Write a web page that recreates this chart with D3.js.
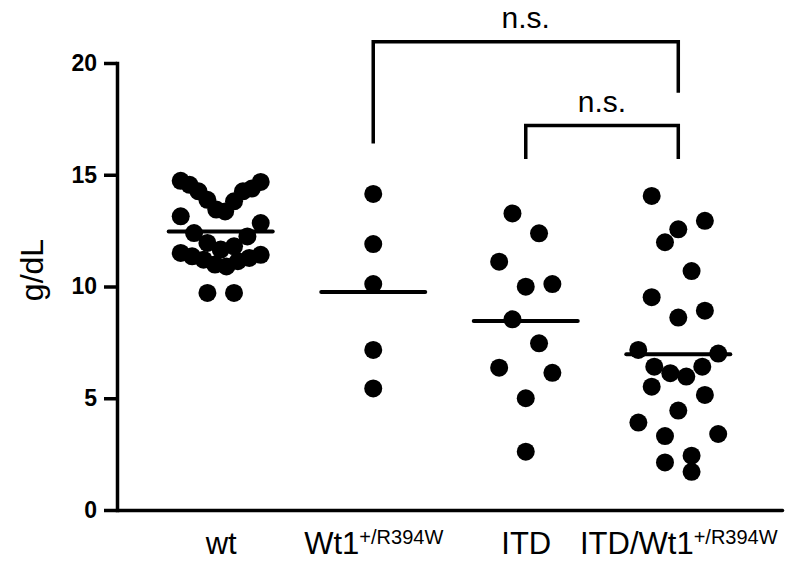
<!DOCTYPE html>
<html>
<head>
<meta charset="utf-8">
<script src="https://cdnjs.cloudflare.com/ajax/libs/d3/7.8.5/d3.min.js"></script>
<style>
  body { margin: 0; background: #fff; }
  text { font-family: "Liberation Sans", Arial, sans-serif; fill: #000; }
</style>
</head>
<body>
<script>
// groups on the x axis
var groups = ["wt", "Wt1", "ITD", "ITD/Wt1"];
var groupNames = ["wt", "Wt1", "ITD", "ITD/Wt1"];
var groupSups = ["", "+/R394W", "", "+/R394W"];

// haemoglobin, g/dL
var wtValues = [14.55, 14.73, 14.68, 14.38, 13.81, 14.26, 14.26, 13.88, 13.36, 13.44,
  13.14, 12.84, 12.24, 12.39, 11.8, 11.95, 11.5, 11.65, 11.35, 11.42, 11.2, 11.28,
  11.13, 10.9, 10.98, 9.71, 9.71];
var wt1Values = [14.14, 11.9, 10.11, 7.16, 5.44];
var itdValues = [13.27, 12.38, 11.11, 10.11, 9.99, 8.53, 7.46, 6.37, 6.14, 5.0, 2.61];
var itdWt1Values = [14.05, 12.94, 12.56, 11.98, 10.69, 9.52, 8.92, 8.61, 7.16, 7.0,
  6.41, 6.41, 6.12, 5.97, 5.52, 5.15, 4.45, 3.91, 3.4, 3.31, 2.43, 2.13, 1.71];

var yTicks = [0, 5, 10, 15, 20];

// significance brackets, heights in g/dL
var comparisons = [
  {from: "Wt1", to: "ITD/Wt1", top: 20.95, leftEnd: 16.4, rightEnd: 18.67, label: "n.s."},
  {from: "ITD", to: "ITD/Wt1", top: 17.2, leftEnd: 15.7, rightEnd: 15.7, label: "n.s."}
];

var allValues = [wtValues, wt1Values, itdValues, itdWt1Values];

var width = 804, height = 561;
var dotR = 9;
var rowHeight = 1.5;   // g/dL, points closer than this share a row
var maxStep = 26.6;    // px between neighbours in a row
var maxSpread = 40;    // px either side of the centre

var svg = d3.select("body")
  .append("svg")
    .attr("width", width)
    .attr("height", height);

var y = d3.scaleLinear()
  .domain([0, 20])
  .range([510, 63]);

var x = d3.scalePoint()
  .domain(groups)
  .range([117, 782])
  .padding(0.68);

// spread the points of one group sideways, Prism style
function swarm(values) {
  var sorted = values.slice().sort(d3.descending);
  var rows = [], row = [];
  sorted.forEach(function(v) {
    if (row.length && row[0] - v > rowHeight) {
      rows.push(row);
      row = [];
    }
    row.push(v);
  });
  if (row.length) rows.push(row);

  var points = [];
  rows.forEach(function(r) {
    var n = r.length;
    var step = n > 1 ? Math.min(maxStep, 2 * maxSpread / (n - 1)) : 0;
    var asc = r.slice().sort(d3.ascending);
    var mid = Math.floor(n / 2);
    var order = [mid];
    for (var k = 1; order.length < n; k++) {
      if (n % 2 == 1) {
        order.push(mid + k);
        if (order.length < n) order.push(mid - k);
      } else {
        order.push(mid - k);
        if (order.length < n) order.push(mid + k);
      }
    }
    asc.forEach(function(v, i) {
      points.push({value: v, dx: (order[i] - (n - 1) / 2) * step});
    });
  });
  return points;
}

// y axis
var yAxis = svg.append("g")
  .attr("transform", "translate(117,0)")
  .call(d3.axisLeft(y)
    .tickValues(yTicks)
    .tickSize(13)
    .tickSizeOuter(0)
    .tickPadding(7));

yAxis.select(".domain")
  .attr("stroke", "#000")
  .attr("stroke-width", 3.5)
  .attr("stroke-linecap", "square");
yAxis.selectAll(".tick line")
  .attr("stroke", "#000")
  .attr("stroke-width", 3.5);
yAxis.selectAll(".tick text")
  .attr("font-family", "Liberation Sans, Arial, sans-serif")
  .attr("font-size", 23)
  .attr("font-weight", "bold");

svg.append("text")
  .attr("transform", "translate(43,270) rotate(-90)")
  .attr("text-anchor", "middle")
  .attr("font-size", 32)
  .text("g/dL");

// x axis
var xAxis = svg.append("g")
  .attr("transform", "translate(0,510)")
  .call(d3.axisBottom(x).tickSize(0).tickSizeOuter(0));

xAxis.select(".domain")
  .attr("stroke", "#000")
  .attr("stroke-width", 3.5)
  .attr("stroke-linecap", "round");
xAxis.selectAll(".tick text").remove();

var labels = xAxis.selectAll(".tick")
  .append("text")
    .attr("y", 44)
    .attr("text-anchor", "middle")
    .attr("font-size", 31);

labels.append("tspan")
  .text(function(d) { return groupNames[groups.indexOf(d)]; });
labels.append("tspan")
  .attr("dy", -10)
  .attr("font-size", 20)
  .text(function(d) { return groupSups[groups.indexOf(d)]; });

// dots and means
groups.forEach(function(g, i) {
  var vals = allValues[i];
  var cx = x(g);

  svg.append("g")
    .selectAll("circle")
    .data(swarm(vals))
    .enter()
      .append("circle")
        .attr("cx", function(d) { return cx + d.dx; })
        .attr("cy", function(d) { return y(d.value); })
        .attr("r", dotR)
        .attr("fill", "#000");

  var m = d3.mean(vals);
  svg.append("line")
    .attr("x1", cx - 52)
    .attr("x2", cx + 52)
    .attr("y1", y(m))
    .attr("y2", y(m))
    .attr("stroke", "#000")
    .attr("stroke-width", 4)
    .attr("stroke-linecap", "round");
});

// brackets
comparisons.forEach(function(c) {
  var x1 = x(c.from), x2 = x(c.to);
  svg.append("path")
    .attr("d", "M" + x1 + "," + y(c.leftEnd) + "V" + y(c.top) + "H" + x2 + "V" + y(c.rightEnd))
    .attr("fill", "none")
    .attr("stroke", "#000")
    .attr("stroke-width", 3.5);

  svg.append("text")
    .attr("x", (x1 + x2) / 2)
    .attr("y", y(c.top) - 14)
    .attr("text-anchor", "middle")
    .attr("font-size", 30)
    .text(c.label);
});
</script>
</body>
</html>
